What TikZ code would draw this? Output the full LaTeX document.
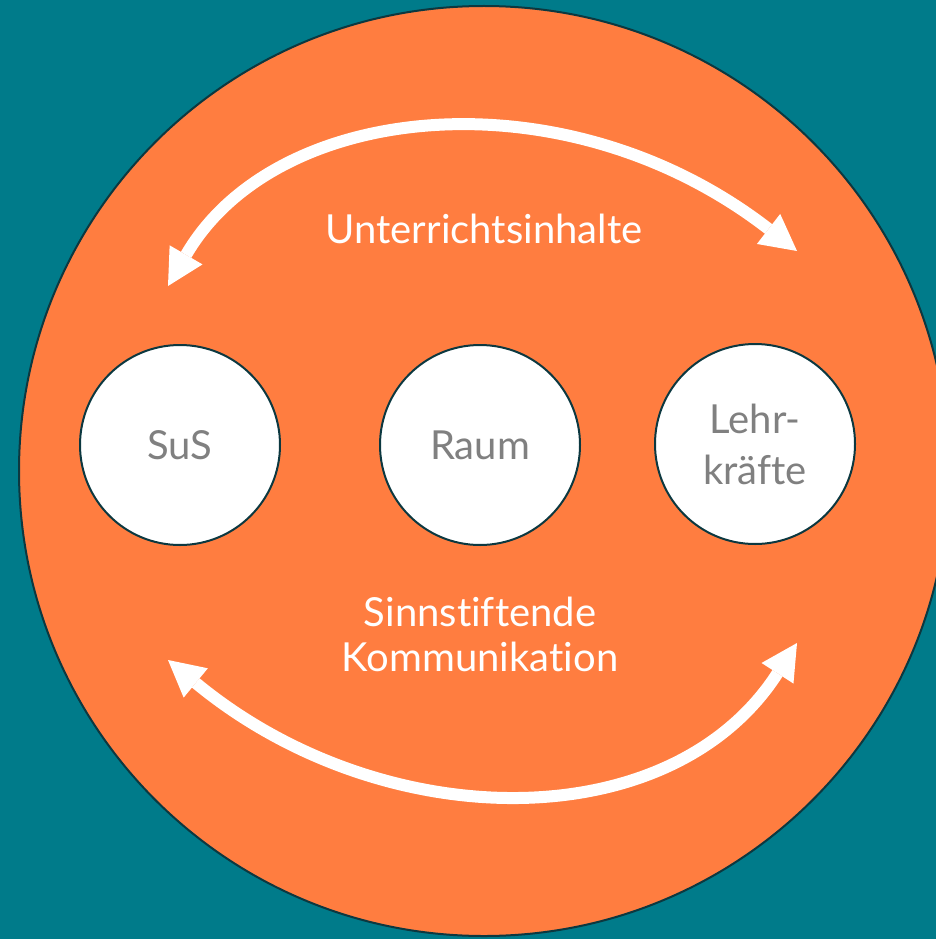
\documentclass[tikz,border=0pt]{standalone}
\usepackage{fontspec}
\setmainfont{Lato}[Ligatures=NoCommon]
\usetikzlibrary{arrows.meta}

\definecolor{petrol}{RGB}{0,123,138}
\definecolor{orangerot}{RGB}{255,125,64}
\definecolor{dunkel}{RGB}{12,56,64}
\definecolor{textgrau}{RGB}{128,128,128}

\begin{document}
\begin{tikzpicture}[x=1pt,y=-1pt,
  kreis/.style={circle,draw=dunkel,line width=2pt,fill=white,minimum size=200pt,
    inner sep=0pt,align=center,text=textgrau,font=\fontsize{40}{51}\selectfont},
  pfeil/.style={draw=white,line width=12pt,{Triangle[length=36pt,width=38pt,line width=0pt]}-{Triangle[length=36pt,width=38pt,line width=0pt]}},
  schrift/.style={text=white,align=center,font=\fontsize{40}{45}\selectfont}]

% Hintergrund
\fill[petrol] (0,0) rectangle (936,939);
\useasboundingbox (0,0) rectangle (936,939);
\begin{scope}
  \clip (0,0) rectangle (936,939);
  \draw[dunkel,line width=2pt,fill=orangerot] (484,471) circle (465pt);
\end{scope}

% die drei Kreise
\node[kreis] (sus) at (180,445) {SuS};
\node[kreis] (raum) at (480,445) {Raum};
\node[kreis] (lehr) at (755,444) {Lehr-\\kr\"afte};

% Beschriftungen
\node[schrift,anchor=base] (inhalte) at (484,243) {Unterrichtsinhalte};
\node[schrift] (kommunikation) at (480,634) {Sinnstiftende\\Kommunikation};

% Pfeile
\coordinate (oben-l) at (168,286);
\coordinate (oben-r) at (797,251);
\coordinate (unten-l) at (168,660);
\coordinate (unten-r) at (797,643);

\draw[pfeil] (oben-l) .. controls (276,100) and (566,72) .. (oben-r);
\draw[pfeil] (unten-l) .. controls (381,836) and (670,840) .. (unten-r);
\end{tikzpicture}
\end{document}
